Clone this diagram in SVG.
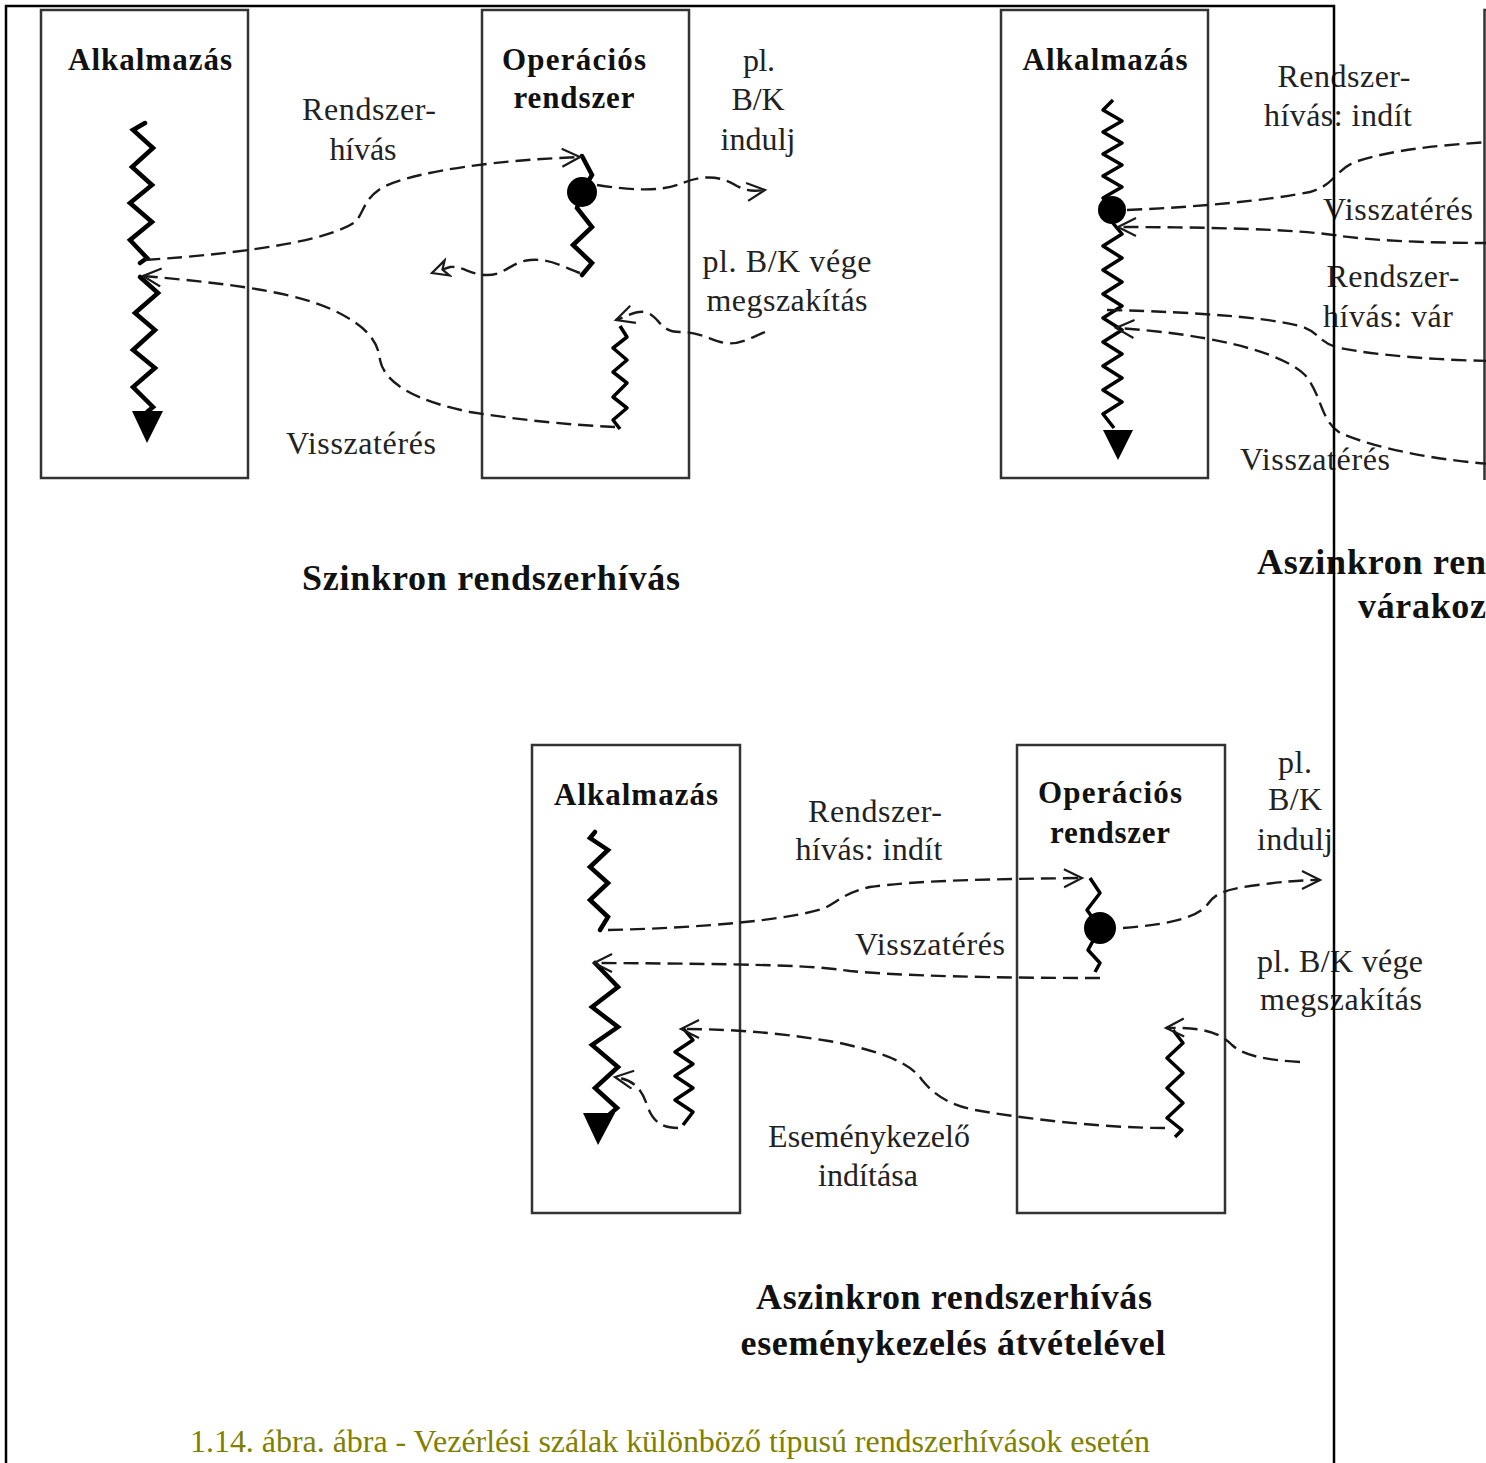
<svg xmlns="http://www.w3.org/2000/svg" width="1486" height="1463" viewBox="0 0 1486 1463">
  <style>
    .box { fill: none; stroke: #333; stroke-width: 2.5; }
    .thread { fill: none; stroke: #000; stroke-width: 4.5; stroke-linejoin: miter; stroke-linecap: round; }
    .thin { fill: none; stroke: #000; stroke-width: 3.5; stroke-linejoin: round; }
    .dash { fill: none; stroke: #1a1a1a; stroke-width: 2.4; stroke-dasharray: 15 7; }
    .lbl { font-family: "Liberation Serif", "Times New Roman", serif; font-size: 32px; fill: #222; }
    .hdr { font-family: "Liberation Serif", "Times New Roman", serif; font-size: 31px; font-weight: bold; fill: #111; }
    .ttl { font-family: "Liberation Serif", "Times New Roman", serif; font-size: 36px; font-weight: bold; fill: #111; }
    .cap { font-family: "Liberation Serif", "Times New Roman", serif; font-size: 32px; fill: #808000; }
    .frame { fill: none; stroke: #000; stroke-width: 2.5; }
  </style>
  <defs>
    <marker id="open" markerUnits="userSpaceOnUse" markerWidth="24" markerHeight="24" refX="19" refY="10" orient="auto">
      <path d="M1,1 L19,10 L1,19" fill="none" stroke="#1a1a1a" stroke-width="2.2"/>
    </marker>
    <marker id="tri" markerUnits="userSpaceOnUse" markerWidth="24" markerHeight="24" refX="18" refY="10" orient="auto">
      <path d="M2,2 L18,10 L2,18 L7,10 Z" fill="#fff" stroke="#1a1a1a" stroke-width="2.2"/>
    </marker>
  </defs>
  <rect width="1486" height="1463" fill="#fff"/>

  <!-- Synchronous call -->
  <g id="sync-app">
    <rect class="box" x="41" y="10" width="207" height="468"/>
    <text class="hdr" x="150" y="70" text-anchor="middle" textLength="164">Alkalmazás</text>
    <polyline class="thread" points="145,123 133,130 153,148 132,167 152,185 130,203 152,222 130,240 147,258 140,263"/>
    <polyline class="thread" points="140,277 158,293 135,313 155,330 133,350 155,368 133,387 153,407 147,412"/>
    <polygon points="132,411 163,411 147,443" fill="#000"/>
  </g>
  <g id="sync-os">
    <rect class="box" x="482" y="10" width="207" height="468"/>
    <text class="hdr" x="574" y="70" text-anchor="middle" textLength="144">Operációs</text>
    <text class="hdr" x="574" y="108" text-anchor="middle" textLength="121">rendszer</text>
    <polyline class="thread" points="582,156 592,175 582,192 577,208 592,227 573,245 592,263 582,275"/>
    <circle cx="582" cy="192" r="15" fill="#000"/>
    <polyline class="thin" points="620,326 627,337 613,348 627,360 613,372 627,383 613,397 627,408 613,420 620,429"/>
  </g>
  <g id="sync-labels">
    <text class="lbl" x="369" y="120" text-anchor="middle" textLength="134">Rendszer-</text>
    <text class="lbl" x="363" y="160" text-anchor="middle" textLength="67">hívás</text>
    <text class="lbl" x="759" y="71" text-anchor="middle" textLength="32">pl.</text>
    <text class="lbl" x="758" y="110" text-anchor="middle" textLength="53">B/K</text>
    <text class="lbl" x="758" y="150" text-anchor="middle" textLength="75">indulj</text>
    <text class="lbl" x="787" y="272" text-anchor="middle" textLength="169">pl. B/K vége</text>
    <text class="lbl" x="787" y="311" text-anchor="middle" textLength="161">megszakítás</text>
    <text class="lbl" x="361" y="454" text-anchor="middle" textLength="150">Visszatérés</text>
    <text class="ttl" x="491" y="590" text-anchor="middle" textLength="378">Szinkron rendszerhívás</text>
  </g>

  <!-- Asynchronous call with waiting (right part) -->
  <g id="wait-app">
    <rect class="box" x="1001" y="10" width="207" height="468"/>
    <text class="hdr" x="1105" y="70" text-anchor="middle" textLength="165">Alkalmazás</text>
    <polyline class="thin" points="1113,100 1103,110 1122,121 1103,132 1122,143 1103,154 1122,165 1103,176 1122,187 1103,198 1112,206"/>
    <circle cx="1112" cy="210" r="14" fill="#000"/>
    <polyline class="thin" points="1112,222 1122,234 1103,246 1122,258 1103,270 1122,282 1103,294 1122,306 1103,318 1122,330 1103,342 1122,354 1103,366 1122,378 1103,390 1122,402 1103,414 1114,428"/>
    <polygon points="1103,430 1133,430 1118,460" fill="#000"/>
  </g>
  <g id="wait-os">
    <path class="box" d="M1484.5,480 V10 H1490"/>
  </g>
  <g id="wait-labels">
    <text class="lbl" x="1344" y="87" text-anchor="middle" textLength="133">Rendszer-</text>
    <text class="lbl" x="1338" y="126" text-anchor="middle" textLength="148">hívás: indít</text>
    <text class="lbl" x="1398" y="220" text-anchor="middle" textLength="150">Visszatérés</text>
    <text class="lbl" x="1393" y="287" text-anchor="middle" textLength="133">Rendszer-</text>
    <text class="lbl" x="1388" y="327" text-anchor="middle" textLength="130">hívás: vár</text>
    <text class="lbl" x="1315" y="470" text-anchor="middle" textLength="150">Visszatérés</text>
    <text class="ttl" x="1257" y="574" textLength="229">Aszinkron ren</text>
    <text class="ttl" x="1358" y="618" textLength="128">várakoz</text>
  </g>

  <!-- Asynchronous call with event handling -->
  <g id="event-app">
    <rect class="box" x="532" y="745" width="208" height="468"/>
    <text class="hdr" x="636" y="805" text-anchor="middle" textLength="164">Alkalmazás</text>
    <polyline class="thread" points="595,832 590,838 608,850 590,867 608,883 590,900 608,917 600,930"/>
    <polyline class="thread" points="595,963 618,987 592,1007 618,1027 592,1045 618,1067 595,1088 617,1108 610,1114"/>
    <polygon points="583,1113 615,1113 598,1145" fill="#000"/>
    <polyline class="thin" points="683,1028 693,1040 675,1052 693,1064 675,1076 693,1088 675,1100 693,1112 683,1125"/>
  </g>
  <g id="event-os">
    <rect class="box" x="1017" y="745" width="208" height="468"/>
    <text class="hdr" x="1110" y="803" text-anchor="middle" textLength="144">Operációs</text>
    <text class="hdr" x="1110" y="843" text-anchor="middle" textLength="120">rendszer</text>
    <polyline class="thin" points="1090,878 1100,893 1087,910 1100,928 1088,950 1100,963 1095,972"/>
    <circle cx="1100" cy="928" r="16" fill="#000"/>
    <polyline class="thin" points="1173,1030 1183,1043 1167,1058 1183,1073 1167,1088 1183,1103 1167,1118 1182,1130 1175,1137"/>
  </g>
  <g id="event-labels">
    <text class="lbl" x="875" y="822" text-anchor="middle" textLength="134">Rendszer-</text>
    <text class="lbl" x="869" y="860" text-anchor="middle" textLength="147">hívás: indít</text>
    <text class="lbl" x="930" y="955" text-anchor="middle" textLength="150">Visszatérés</text>
    <text class="lbl" x="869" y="1147" text-anchor="middle" textLength="202">Eseménykezelő</text>
    <text class="lbl" x="868" y="1186" text-anchor="middle" textLength="100">indítása</text>
    <text class="lbl" x="1295" y="773" text-anchor="middle" textLength="34">pl.</text>
    <text class="lbl" x="1295" y="810" text-anchor="middle" textLength="54">B/K</text>
    <text class="lbl" x="1295" y="850" text-anchor="middle" textLength="76">indulj</text>
    <text class="lbl" x="1340" y="972" text-anchor="middle" textLength="166">pl. B/K vége</text>
    <text class="lbl" x="1341" y="1010" text-anchor="middle" textLength="162">megszakítás</text>
    <text class="ttl" x="954" y="1309" text-anchor="middle" textLength="396">Aszinkron rendszerhívás</text>
    <text class="ttl" x="953" y="1355" text-anchor="middle" textLength="425">eseménykezelés átvételével</text>
  </g>

  <!-- Dashed control-flow connectors -->
  <g id="connectors">
    <path class="dash" marker-end="url(#open)" d="M145,260 C250,253 330,240 355,222 C365,212 362,200 383,187 C420,170 500,160 580,157"/>
    <path class="dash" marker-end="url(#open)" d="M597,185 C630,190 660,192 680,184 C695,178 715,172 737,186 C748,192 756,191 765,190"/>
    <path class="dash" marker-end="url(#tri)" d="M580,273 C565,268 550,258 530,260 C510,262 505,276 485,275 C470,274 462,266 450,267 L432,273"/>
    <path class="dash" marker-end="url(#open)" d="M765,332 C750,338 740,345 725,343 C710,340 700,332 680,332 C660,332 660,318 648,313 C638,309 628,316 616,320"/>
    <path class="dash" marker-end="url(#open)" d="M615,427 C570,425 520,420 470,412 C420,402 385,385 380,360 C378,340 365,325 333,310 C300,295 250,285 143,276"/>

    <path class="dash" d="M1127,210 C1200,207 1270,200 1310,192 C1335,185 1335,170 1355,162 C1390,150 1440,145 1490,142"/>
    <path class="dash" marker-end="url(#open)" d="M1490,243 C1420,243 1370,240 1340,236 C1300,229 1200,227 1118,227"/>
    <path class="dash" d="M1107,310 C1200,312 1270,318 1300,326 C1320,332 1318,343 1340,348 C1380,356 1440,360 1490,361"/>
    <path class="dash" marker-end="url(#open)" d="M1490,464 C1440,460 1380,450 1340,433 C1320,420 1322,395 1305,375 C1280,350 1200,333 1116,328"/>

    <path class="dash" marker-end="url(#open)" d="M608,930 C700,928 790,920 825,908 C840,900 845,893 870,887 C920,880 1000,879 1082,878"/>
    <path class="dash" marker-end="url(#open)" d="M1100,978 C1000,978 900,976 850,971 C820,967 800,964 594,963"/>
    <path class="dash" marker-end="url(#open)" d="M1123,928 C1160,925 1195,920 1207,905 C1215,893 1225,890 1250,886 C1280,882 1300,880 1320,880"/>
    <path class="dash" marker-end="url(#open)" d="M1300,1062 C1270,1060 1245,1057 1232,1045 C1220,1033 1205,1027 1166,1028"/>
    <path class="dash" marker-end="url(#open)" d="M1165,1128 C1100,1128 1020,1118 975,1110 C945,1104 932,1092 922,1080 C910,1062 880,1052 840,1043 C790,1034 740,1029 681,1029"/>
    <path class="dash" marker-end="url(#open)" d="M678,1128 C660,1128 652,1120 647,1105 C642,1090 635,1080 615,1077"/>
  </g>

  <text class="cap" x="670" y="1452" text-anchor="middle" textLength="960">1.14. ábra. ábra - Vezérlési szálak különböző típusú rendszerhívások esetén</text>

  <!-- Page frame, drawn over the figure -->
  <path class="frame" d="M6,1463 V6 H1334 V1463"/>
</svg>
